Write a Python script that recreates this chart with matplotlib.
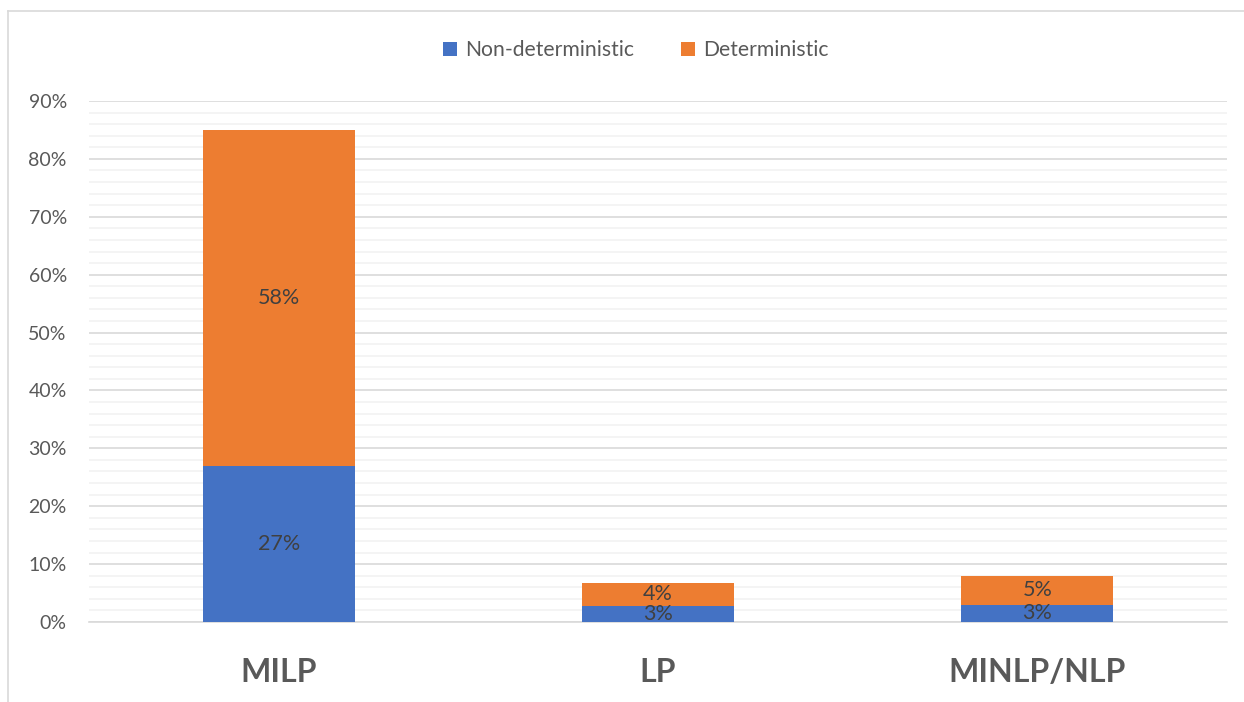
import numpy as np
import matplotlib.pyplot as plt
from matplotlib.lines import Line2D
from matplotlib.ticker import MultipleLocator, PercentFormatter

plt.rcParams['font.family'] = ['Lato', 'DejaVu Sans']

categories = ['MILP', 'LP', 'MINLP/NLP']
non_deterministic = [0.27, 0.028, 0.030]
deterministic = [0.58, 0.040, 0.050]
series_names = ['Non-deterministic', 'Deterministic']
colors = ['#4472C4', '#ED7D31']

fig = plt.figure(figsize=(12.44, 7.02), dpi=100)
ax = fig.add_axes([89 / 1244, 1 - 622 / 702, (1227 - 89) / 1244, (622 - 101) / 702])

x = np.arange(len(categories))
width = 0.4
b1 = ax.bar(x, non_deterministic, width, color=colors[0], label=series_names[0], zorder=3)
b2 = ax.bar(x, deterministic, width, bottom=non_deterministic, color=colors[1],
            label=series_names[1], zorder=3)

for bars, vals in ((b1, non_deterministic), (b2, deterministic)):
    ax.bar_label(bars, labels=[f'{v * 100:.0f}%' for v in vals], label_type='center',
                 fontsize=15.5, color='#404040')

ax.set_xlim(-0.5, len(categories) - 0.5)
ax.set_ylim(0, 0.9)
ax.yaxis.set_major_locator(MultipleLocator(0.1))
ax.yaxis.set_minor_locator(MultipleLocator(0.02))
ax.yaxis.set_major_formatter(PercentFormatter(1.0, decimals=0))
ax.grid(axis='y', which='major', color='#D9D9D9', linewidth=1.2, zorder=0)
ax.grid(axis='y', which='minor', color='#F2F2F2', linewidth=1.2, zorder=0)
ax.set_axisbelow(True)

ax.set_xticks(x)
ax.set_xticklabels(categories, fontsize=23, fontweight='bold', color='#595959')
ax.tick_params(axis='x', length=0, pad=26)
ax.tick_params(axis='y', which='both', length=0, labelsize=14, labelcolor='#595959', pad=16)
for side in ['top', 'right', 'left']:
    ax.spines[side].set_visible(False)
ax.spines['bottom'].set_color('#D9D9D9')
ax.spines['bottom'].set_linewidth(1.2)

fig.legend(loc='center', bbox_to_anchor=(636 / 1244, 1 - 50 / 702), ncol=2, frameon=False,
           fontsize=15.2, labelcolor='#595959', handlelength=0.65, handleheight=0.65,
           handletextpad=0.4, columnspacing=2.2)

# chart area border
fig.add_artist(Line2D([8 / 1244, 1], [1 - 11 / 702, 1 - 11 / 702], color='#D9D9D9', linewidth=1.2))
fig.add_artist(Line2D([8 / 1244, 8 / 1244], [0, 1 - 11 / 702], color='#D9D9D9', linewidth=1.2))

fig.savefig('out.png', dpi=100)
